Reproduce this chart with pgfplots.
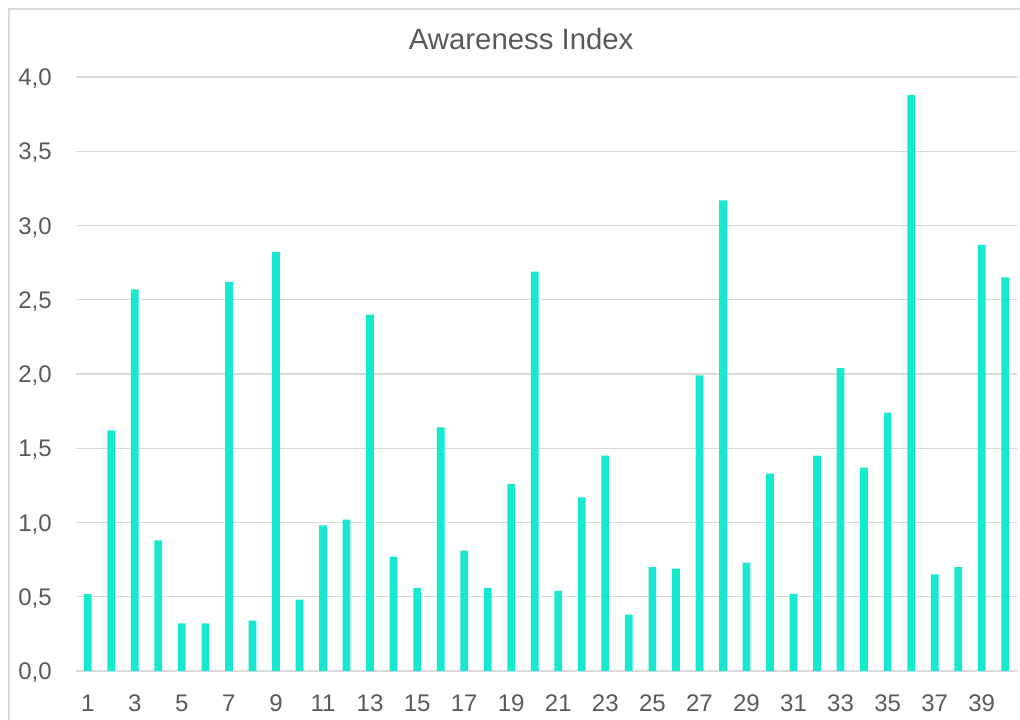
\documentclass[border=0pt]{standalone}
\usepackage{pgfplots}
\pgfplotsset{compat=1.18}
\usepackage{fontspec}
\setmainfont{Liberation Sans}

\definecolor{barcol}{RGB}{23,233,208}
\definecolor{txtgray}{RGB}{89,89,89}
\definecolor{gridgray}{RGB}{217,217,217}

\begin{document}
\begin{tikzpicture}
% page is 1020 x 719 px at 0.75pt per px
\useasboundingbox (0,0) rectangle (765pt,539.25pt);
\draw[gridgray, line width=1pt] (6.75pt,532.5pt) rectangle (800pt,-20pt);

\begin{axis}[
    at={(57pt,36pt)},
    anchor=south west,
    scale only axis,
    width=705.75pt,
    height=445.5pt,
    ybar,
    bar width=5.8pt,
    bar shift=0pt,
    xmin=0.5, xmax=40.5,
    ymin=0, ymax=4,
    enlargelimits=false,
    axis line style={draw=none},
    major tick length=0pt,
    xtick={1,3,...,39},
    ytick={0,0.5,...,4},
    ymajorgrids,
    grid style={gridgray, line width=0.9pt},
    /pgf/number format/.cd, use comma, fixed, fixed zerofill, precision=1, assume math mode=true,
    /pgfplots/.cd,
    xticklabel={\pgfmathprintnumber[fixed, precision=0]{\tick}},
    x tick label style={font=\fontsize{18}{20}\selectfont, text=txtgray, anchor=base, yshift=-30pt, inner sep=0pt},
    y tick label style={font=\fontsize{18}{20}\selectfont, text=txtgray, anchor=base east, xshift=-18pt, yshift=-6.5pt, inner sep=0pt},
    title={Awareness Index},
    title style={font=\fontsize{22}{24}\selectfont, text=txtgray, at={(0.5,1)}, anchor=base, xshift=-19pt, yshift=15pt, inner sep=0pt},
  ]
  \addplot[fill=barcol, draw=none] coordinates {
    (1,0.52) (2,1.62) (3,2.57) (4,0.88) (5,0.32)
    (6,0.32) (7,2.62) (8,0.34) (9,2.82) (10,0.48)
    (11,0.98) (12,1.02) (13,2.40) (14,0.77) (15,0.56)
    (16,1.64) (17,0.81) (18,0.56) (19,1.26) (20,2.69)
    (21,0.54) (22,1.17) (23,1.45) (24,0.38) (25,0.70)
    (26,0.69) (27,1.99) (28,3.17) (29,0.73) (30,1.33)
    (31,0.52) (32,1.45) (33,2.04) (34,1.37) (35,1.74)
    (36,3.88) (37,0.65) (38,0.70) (39,2.87) (40,2.65)
  };
\end{axis}
\end{tikzpicture}
\end{document}
